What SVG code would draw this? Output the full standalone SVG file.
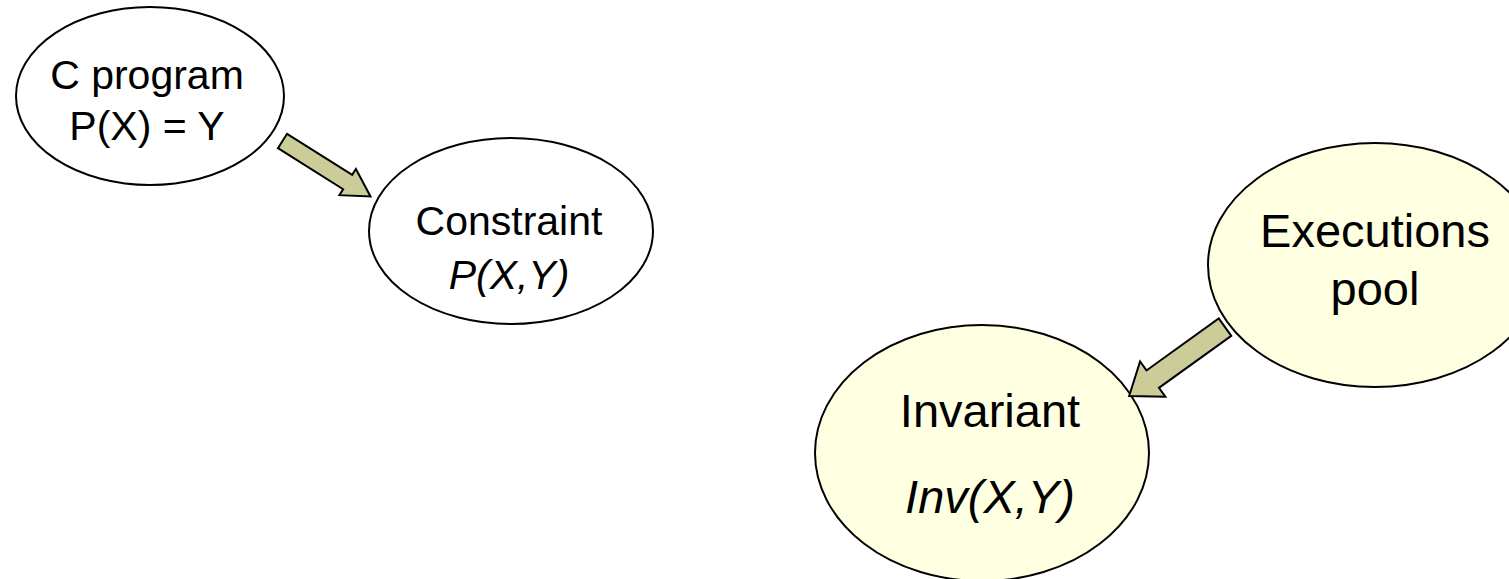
<svg xmlns="http://www.w3.org/2000/svg" width="1509" height="579" viewBox="0 0 1509 579">
  <style>
    .node { stroke: #000; stroke-width: 2; }
    .plain { fill: #ffffff; }
    .pale { fill: #ffffe1; }
    .label { font-family: "Liberation Sans", Arial, sans-serif; fill: #000; text-anchor: middle; }
    .sm { font-size: 41px; }
    .lg { font-size: 47px; }
    .it { font-style: italic; }
    .arrow { fill: #cccc99; stroke: #000; stroke-width: 2; stroke-linejoin: miter; }
  </style>
  <rect width="1509" height="579" fill="#ffffff"/>

  <g id="program">
    <ellipse class="node plain" cx="150" cy="96" rx="134" ry="89"/>
    <text class="label sm" x="147" y="89">C program</text>
    <text class="label sm" x="147" y="140">P(X) = Y</text>
  </g>

  <g id="constraint">
    <ellipse class="node plain" cx="511" cy="231" rx="142" ry="93"/>
    <text class="label sm" x="509" y="235">Constraint</text>
    <text class="label sm it" x="509" y="289">P(X,Y)</text>
  </g>

  <g id="executions">
    <ellipse class="node pale" cx="1375" cy="265" rx="167" ry="122"/>
    <text class="label lg" x="1375" y="247">Executions</text>
    <text class="label lg" x="1375" y="305">pool</text>
  </g>

  <g id="invariant">
    <ellipse class="node pale" cx="982" cy="453" rx="167" ry="128"/>
    <text class="label lg" x="990" y="427">Invariant</text>
    <text class="label lg it" x="990" y="513">Inv(X,Y)</text>
  </g>

  <g id="connectors">
    <!-- block arrow: program to constraint -->
    <polygon class="arrow" transform="translate(282.5 141) rotate(32.2)"
             points="0,-8.5 77,-8.5 77,-15.5 104,0 77,15.5 77,8.5 0,8.5"/>
    <!-- block arrow: executions pool to invariant -->
    <polygon class="arrow" transform="translate(1225 327.2) rotate(144.3)"
             points="0,-10.7 89,-10.7 89,-21.7 118,0 89,21.7 89,10.7 0,10.7"/>
  </g>
</svg>
